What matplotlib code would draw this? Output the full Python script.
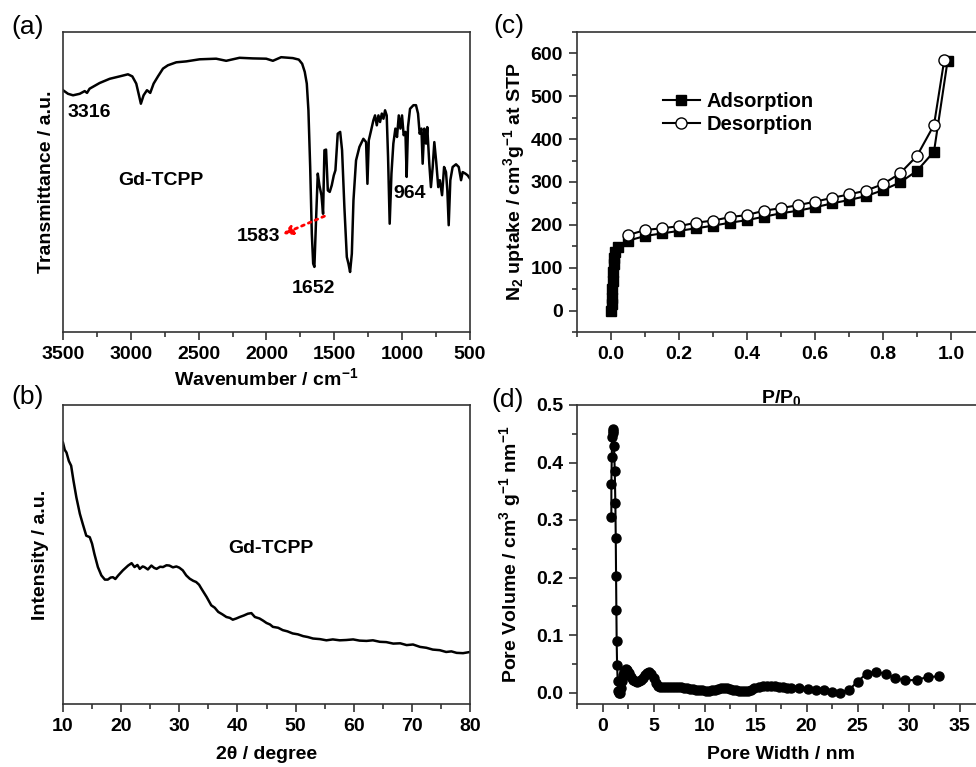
# -*- coding: utf-8 -*-
""" Gd-TCPP characterisation: FT-IR, PXRD, N2 isotherm, pore size distribution """

import matplotlib
matplotlib.use('Agg')
import matplotlib.pyplot as plt
from matplotlib.ticker import MultipleLocator
import numpy as num

# (a) FT-IR, wavenumber / transmittance (arbitrary units)
ir_wavenumber = [3500, 3463, 3426, 3377, 3340, 3323, 3304, 3230, 3156, 3083,
                 3021, 2989, 2960, 2940, 2926, 2906, 2881, 2857, 2832, 2800,
                 2763, 2727, 2665, 2592, 2493, 2371, 2297, 2199, 2101, 2002,
                 1953, 1892, 1806, 1762, 1737, 1718, 1703, 1691, 1678, 1666,
                 1656, 1647, 1634, 1622, 1610, 1595, 1583, 1573, 1561, 1548,
                 1534, 1519, 1504, 1492, 1475, 1457, 1443, 1426, 1408, 1396,
                 1384, 1371, 1359, 1340, 1315, 1286, 1266, 1256, 1246, 1229,
                 1212, 1200, 1187, 1175, 1163, 1150, 1138, 1126, 1114, 1104,
                 1092, 1079, 1065, 1050, 1038, 1025, 1013, 1001, 989, 976,
                 967, 957, 942, 917, 898, 883, 871, 858, 849, 837,
                 824, 815, 800, 788, 775, 763, 749, 734, 722, 706,
                 691, 677, 667, 657, 645, 628, 603, 583, 566, 554,
                 534, 517, 500]
ir_transmittance = [80.6, 79.4, 78.9, 79.4, 80.3, 79.7, 81.1, 83.0, 84.4, 85.2,
                    85.9, 85.2, 82.8, 78.9, 76.1, 78.9, 80.6, 79.7, 82.8, 85.2,
                    87.8, 88.9, 89.9, 90.2, 90.9, 91.1, 90.4, 91.4, 91.2, 91.1,
                    90.4, 91.6, 91.3, 90.8, 89.4, 86.7, 82.8, 73.9, 55.0, 32.8,
                    22.8, 21.7, 38.3, 52.8, 48.9, 45.6, 39.4, 60.6, 60.8, 47.2,
                    46.7, 48.9, 52.2, 53.9, 66.1, 66.7, 60.6, 41.7, 25.0, 22.8,
                    20.0, 26.1, 43.9, 57.2, 61.7, 64.4, 63.3, 49.4, 63.9, 67.2,
                    70.6, 72.2, 68.9, 72.2, 70.0, 72.8, 71.1, 73.9, 72.2, 58.3,
                    36.1, 52.8, 62.8, 67.8, 65.0, 72.2, 67.8, 72.2, 65.6, 66.7,
                    51.7, 68.3, 74.4, 75.6, 75.6, 72.8, 66.1, 67.8, 56.1, 67.8,
                    62.8, 68.3, 56.1, 48.3, 55.0, 63.3, 56.7, 48.3, 50.6, 45.6,
                    55.0, 53.3, 47.2, 35.6, 50.6, 55.0, 55.9, 55.0, 50.6, 53.3,
                    52.8, 52.2, 51.1]

# (b) PXRD, 2theta / intensity (arbitrary units)
xrd_2theta = [10.0, 10.3, 10.6, 11.0, 11.4, 11.8, 12.3, 12.9, 13.4, 14.0,
              14.6, 15.0, 15.4, 16.0, 16.6, 17.2, 17.7, 18.2, 18.6, 19.0,
              19.5, 20.3, 21.2, 21.8, 22.3, 22.8, 23.2, 23.7, 24.0, 24.6,
              25.2, 25.7, 26.1, 26.7, 27.2, 27.8, 28.3, 28.9, 29.5, 30.0,
              30.6, 31.2, 31.8, 32.4, 32.9, 33.4, 33.8, 34.7, 35.5, 36.1,
              36.7, 37.4, 38.1, 38.7, 39.2, 39.8, 40.4, 41.1, 41.8, 42.4,
              43.0, 43.8, 44.4, 45.0, 45.6, 46.1, 47.0, 47.8, 48.6, 49.5,
              50.4, 51.3, 52.1, 53.0, 54.2, 55.3, 56.4, 57.6, 58.7, 59.9,
              61.0, 62.2, 63.3, 64.5, 65.6, 66.8, 68.0, 69.1, 70.2, 71.4,
              72.5, 73.6, 74.8, 75.9, 76.8, 77.7, 78.8, 80.0]
xrd_intensity = [87.4, 85.0, 84.1, 81.3, 79.7, 74.7, 69.1, 63.6, 60.2, 56.3,
                 55.8, 53.6, 50.2, 45.8, 43.0, 41.6, 41.6, 42.3, 42.4, 41.8,
                 43.0, 44.7, 46.3, 47.1, 45.8, 46.5, 45.2, 46.0, 45.8, 45.0,
                 46.3, 45.5, 45.2, 45.9, 45.8, 46.4, 46.3, 45.7, 46.0, 45.6,
                 44.7, 43.0, 41.9, 41.2, 40.8, 39.9, 38.6, 35.8, 33.0, 32.2,
                 30.8, 30.0, 29.1, 28.8, 28.2, 28.6, 29.1, 29.6, 30.2, 30.4,
                 29.1, 28.6, 27.9, 27.1, 26.6, 25.8, 25.5, 24.7, 24.3, 23.6,
                 23.3, 22.7, 22.4, 21.9, 21.7, 21.3, 21.6, 21.3, 21.4, 21.6,
                 21.2, 21.1, 21.3, 20.8, 20.7, 20.2, 20.3, 19.7, 19.9, 19.1,
                 18.8, 18.2, 18.0, 17.4, 17.6, 17.1, 17.0, 17.4]

# (c) N2 isotherm
ads_p = [0.001, 0.002, 0.003, 0.004, 0.005, 0.006, 0.008, 0.010, 0.013,
         0.02, 0.05, 0.10, 0.15, 0.20, 0.25, 0.30, 0.35, 0.40, 0.45, 0.50,
         0.55, 0.60, 0.65, 0.70, 0.75, 0.80, 0.85, 0.90, 0.95, 0.99]
ads_v = [0, 15, 30, 50, 70, 90, 108, 122, 136,
         148, 163, 174, 180, 186, 192, 198, 205, 211, 219, 227,
         233, 241, 250, 258, 267, 281, 299, 326, 371, 583]
des_p = [0.05, 0.10, 0.15, 0.20, 0.25, 0.30, 0.35, 0.40, 0.45, 0.50,
         0.55, 0.60, 0.65, 0.70, 0.75, 0.80, 0.85, 0.90, 0.95, 0.98]
des_v = [176, 188, 192, 197, 205, 210, 218, 223, 233, 239,
         246, 254, 263, 271, 280, 295, 320, 361, 433, 584]

# (d) pore size distribution
pore_width = [0.87, 0.87, 0.91, 0.94, 1.00, 1.04, 1.07, 1.13, 1.20, 1.26,
              1.30, 1.33, 1.36, 1.39, 1.43, 1.49, 1.55, 1.62, 1.70, 1.80,
              1.90, 2.00, 2.15, 2.30, 2.45, 2.60, 2.80, 3.00, 3.20, 3.40,
              3.60, 3.80, 4.00, 4.20, 4.40, 4.60, 4.80, 5.00, 5.20, 5.40,
              5.60, 5.90, 6.20, 6.50, 6.80, 7.10, 7.40, 7.70, 8.00, 8.30,
              8.60, 8.90, 9.20, 9.50, 9.80, 10.1, 10.4, 10.7, 11.0, 11.3,
              11.6, 11.9, 12.2, 12.5, 12.8, 13.1, 13.4, 13.7, 14.0, 14.3,
              14.6, 14.9, 15.3, 15.7, 16.1, 16.5, 16.9, 17.3, 17.7, 18.1,
              18.5, 19.3, 20.1, 20.9, 21.7, 22.5, 23.3, 24.2, 25.0, 25.9,
              26.8, 27.8, 28.7, 29.7, 30.8, 31.9, 33.0]
pore_volume = [0.305, 0.363, 0.410, 0.444, 0.455, 0.451, 0.458, 0.428, 0.386, 0.330,
               0.268, 0.203, 0.144, 0.089, 0.048, 0.020, 0.003, 0.000, 0.000, 0.008,
               0.020, 0.031, 0.038, 0.041, 0.039, 0.034, 0.027, 0.022, 0.020, 0.019,
               0.020, 0.022, 0.026, 0.031, 0.034, 0.035, 0.032, 0.025, 0.017, 0.012,
               0.010, 0.009, 0.009, 0.009, 0.009, 0.009, 0.009, 0.009, 0.008, 0.007,
               0.006, 0.006, 0.005, 0.004, 0.004, 0.003, 0.003, 0.004, 0.005, 0.006,
               0.007, 0.007, 0.007, 0.006, 0.005, 0.004, 0.003, 0.002, 0.002, 0.003,
               0.005, 0.008, 0.010, 0.011, 0.011, 0.011, 0.011, 0.010, 0.009, 0.008,
               0.008, 0.007, 0.006, 0.005, 0.004, 0.001, 0.000, 0.005, 0.019, 0.033,
               0.036, 0.032, 0.025, 0.021, 0.022, 0.027, 0.028]

plt.rcParams['font.family'] = ['Liberation Sans', 'DejaVu Sans']
plt.rcParams['font.weight'] = 'bold'
plt.rcParams['axes.labelweight'] = 'bold'
plt.rcParams['mathtext.fontset'] = 'custom'
plt.rcParams['mathtext.rm'] = 'Liberation Sans:bold'
plt.rcParams['mathtext.bf'] = 'Liberation Sans:bold'
plt.rcParams['mathtext.default'] = 'bf'

W, H = 976., 767.
FS = 14


def make_axes(fig, left, top, right, bottom):
    # pixel box -> figure fraction
    ax = fig.add_axes([left / W, 1 - bottom / H, (right - left) / W, (bottom - top) / H])
    for sp in ax.spines.values():
        sp.set_color('#333333')
        sp.set_linewidth(1.2)
    ax.tick_params(which='both', direction='out', labelsize=FS, width=1.2,
                   color='#333333', pad=4)
    ax.tick_params(which='major', length=6)
    ax.tick_params(which='minor', length=3.5)
    ax.tick_params(top=False, right=False)
    return ax


def bold_ticks(ax):
    for lab in ax.get_xticklabels() + ax.get_yticklabels():
        lab.set_fontweight('bold')


fig = plt.figure(figsize=(W / 100, H / 100), dpi=100)

# (a) FT-IR
ax = make_axes(fig, 63, 32, 470, 332)
ax.plot(ir_wavenumber, ir_transmittance, color='k', lw=1.8)
ax.set_xlim(3500, 500)
ax.set_ylim(0, 100)
ax.xaxis.set_major_locator(MultipleLocator(500))
ax.xaxis.set_minor_locator(MultipleLocator(250))
ax.set_yticks([])
ax.set_xlabel(u'Wavenumber / cm$^{-1}$', fontsize=FS, labelpad=3)
ax.set_ylabel('Transmittance / a.u.', fontsize=FS, labelpad=6)
for lbl, w, t in [('3316', 3304, 73.3), ('Gd-TCPP', 2776, 50.6), ('964', 947, 46.1),
                  ('1583', 2056, 31.7), ('1652', 1654, 14.4)]:
    ax.text(w, t, lbl, fontsize=FS, fontweight='bold', ha='center', va='center')
ax.annotate('', xy=(1880, 32.6), xytext=(1573, 38.6),
            arrowprops=dict(arrowstyle='-|>', color='red', lw=2, linestyle=':',
                            mutation_scale=14, shrinkA=0, shrinkB=0))
bold_ticks(ax)

# (b) PXRD
ax = make_axes(fig, 63, 405, 470, 704)
ax.plot(xrd_2theta, xrd_intensity, color='k', lw=1.8)
ax.set_xlim(10, 80)
ax.set_ylim(0, 100)
ax.xaxis.set_major_locator(MultipleLocator(10))
ax.xaxis.set_minor_locator(MultipleLocator(5))
ax.set_yticks([])
ax.set_xlabel(u'2\u03b8 / degree', fontsize=FS, labelpad=8)
ax.set_ylabel('Intensity / a.u.', fontsize=FS, labelpad=10)
ax.text(45.8, 51.9, 'Gd-TCPP', fontsize=FS, fontweight='bold', ha='center', va='center')
bold_ticks(ax)

# (c) N2 isotherm
ax_c = make_axes(fig, 577, 32, 985, 332)
ax_c.plot(ads_p, ads_v, color='k', lw=1.5, marker='s', markersize=7,
          label='Adsorption')
ax_c.plot(des_p, des_v, color='k', lw=1.5, marker='o', markersize=8,
          markerfacecolor='white', markeredgewidth=1, label='Desorption')
ax_c.set_xlim(-0.1, 1.1)
ax_c.set_ylim(-50, 650)
ax_c.xaxis.set_major_locator(MultipleLocator(0.2))
ax_c.xaxis.set_minor_locator(MultipleLocator(0.1))
ax_c.yaxis.set_major_locator(MultipleLocator(100))
ax_c.yaxis.set_minor_locator(MultipleLocator(50))
# label sits low, partly hidden under panel (d) as in the original figure
ax_c.set_xlabel('P/P$_0$', fontsize=FS, labelpad=18)
ax_c.set_ylabel(u'N$_2$ uptake / cm$^3$g$^{-1}$ at STP', fontsize=FS, labelpad=3)
ax_c.legend(frameon=False, loc='upper left', bbox_to_anchor=(0.21, 0.80),
            handlelength=1.85, handletextpad=0.35, labelspacing=0.2,
            borderpad=0, borderaxespad=0, prop={'weight': 'bold', 'size': 14.5})
bold_ticks(ax_c)

# (d) pore size distribution
ax = make_axes(fig, 577, 405, 985, 704)
ax.set_facecolor('white')
ax.set_zorder(ax_c.get_zorder() + 1)
ax.plot(pore_width, pore_volume, color='k', lw=1.5, marker='o', markersize=6.5)
ax.set_xlim(-2.5, 37.5)
ax.set_ylim(-0.02, 0.5)
ax.xaxis.set_major_locator(MultipleLocator(5))
ax.xaxis.set_minor_locator(MultipleLocator(2.5))
ax.yaxis.set_major_locator(MultipleLocator(0.1))
ax.yaxis.set_minor_locator(MultipleLocator(0.05))
ax.set_xlabel('Pore Width / nm', fontsize=FS, labelpad=8)
ax.set_ylabel(u'Pore Volume / cm$^3$ g$^{-1}$ nm$^{-1}$', fontsize=FS, labelpad=9)
bold_ticks(ax)

# panel letters
for lbl, x, y in [('(a)', 28, 27), ('(b)', 28, 397), ('(c)', 509, 26), ('(d)', 508, 400)]:
    fig.text(x / W, 1 - y / H, lbl, fontsize=19, fontweight='normal',
             ha='center', va='center')

fig.savefig('out.png', dpi=100)
